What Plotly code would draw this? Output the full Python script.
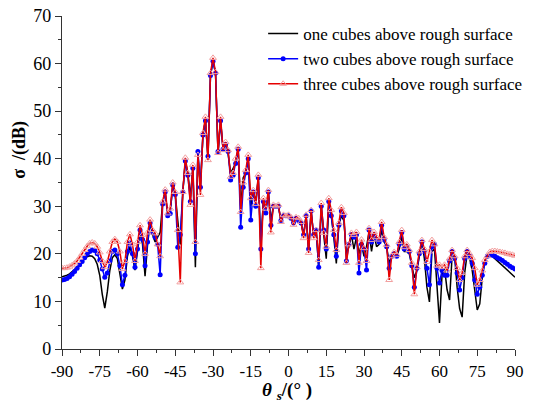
import plotly.graph_objects as go

theta = list(range(-90, 91))

one_cube = [
    15.2, 15.3, 15.5, 15.8, 16.2, 16.7, 17.3, 17.9, 18.5, 19.0,
    19.4, 19.6, 19.5, 19.0, 17.8, 15.5, 11.5, 8.6, 12.0, 16.5,
    19.2, 19.8, 19.0, 16.0, 12.6, 14.5, 19.5, 21.5, 19.5, 16.6,
    20.5, 24.5, 22.0, 15.3, 22.0, 26.5, 24.0, 22.5, 23.5, 24.5,
    31.0, 33.0, 28.0, 29.0, 34.0, 32.5, 27.0, 22.0, 33.0, 39.5,
    37.0, 32.0, 38.0, 17.2, 41.0, 34.0, 45.0, 48.0, 40.0, 57.5,
    60.5, 58.0, 41.0, 48.0, 42.0, 43.0, 41.0, 37.0, 38.0, 39.0,
    42.0, 30.0, 36.0, 37.0, 40.0, 30.0, 33.0, 31.0, 36.0, 22.0,
    31.0, 29.0, 33.0, 27.0, 30.0, 30.0, 30.0, 27.0, 28.0, 28.0,
    28.0, 27.5, 26.5, 27.5, 27.0, 26.5, 24.0, 28.0, 20.5, 29.0,
    23.5, 25.0, 17.0, 30.0, 24.0, 19.0, 30.0, 28.0, 23.5, 18.0,
    26.0, 28.0, 27.0, 20.0, 21.5, 24.0, 21.0, 23.5, 20.0, 22.0,
    19.5, 21.5, 24.5, 20.5, 24.0, 21.5, 22.0, 25.0, 22.5, 21.5,
    18.0, 19.5, 19.5, 19.5, 21.0, 23.5, 20.5, 20.5, 20.0, 17.5,
    15.0, 16.5, 19.5, 22.5, 19.0, 13.0, 9.9, 20.5, 21.0, 12.0,
    5.5, 15.5, 17.0, 12.5, 10.3, 19.5, 19.5, 13.0, 8.5, 6.7,
    16.0, 20.0, 19.0, 16.5, 12.0, 8.2, 9.5, 15.0, 18.5, 19.5,
    19.8, 19.5, 19.0, 18.5, 18.0, 17.5, 17.0, 16.5, 16.0, 15.5,
    15.1,
]

two_cubes = [
    14.5, 14.6, 14.8, 15.2, 15.7, 16.3, 17.0, 17.7, 18.4, 19.2,
    19.9, 20.5, 20.8, 20.7, 20.0, 18.7, 16.8, 15.1, 16.0, 18.5,
    20.5, 20.8, 20.0, 17.5, 13.5, 15.5, 20.5, 22.3, 20.0, 17.2,
    21.0, 25.0, 23.0, 17.5, 22.5, 26.5, 24.5, 23.5, 22.0, 15.6,
    30.5, 33.0, 28.0, 28.5, 34.5, 32.5, 21.4, 24.0, 33.0, 39.5,
    36.5, 31.0, 38.0, 20.0, 41.5, 34.0, 45.0, 48.0, 40.5, 57.5,
    60.5, 58.0, 41.5, 48.0, 42.0, 43.0, 41.5, 35.5, 36.5, 39.0,
    42.0, 25.6, 34.0, 37.0, 40.0, 27.1, 33.0, 30.0, 36.0, 21.0,
    31.0, 28.6, 33.0, 26.0, 30.0, 30.0, 30.0, 27.0, 28.0, 28.0,
    28.0, 27.5, 26.5, 27.5, 27.0, 26.5, 24.0, 28.0, 21.0, 29.0,
    24.0, 25.0, 17.2, 30.0, 25.0, 21.0, 31.0, 28.0, 24.0, 19.5,
    26.0, 29.0, 28.0, 18.5, 22.0, 24.0, 23.5, 24.0, 16.0, 22.0,
    21.0, 16.6, 25.0, 22.5, 24.0, 23.0, 22.5, 26.0, 23.0, 21.5,
    17.0, 19.5, 20.0, 19.5, 22.0, 24.5, 21.0, 21.5, 20.5, 17.5,
    13.0, 17.0, 20.0, 22.5, 20.5, 17.0, 13.5, 21.5, 22.0, 17.0,
    13.9, 16.5, 15.5, 15.5, 18.5, 20.5, 19.0, 16.0, 12.4, 15.0,
    19.0, 20.5, 19.5, 18.0, 14.5, 11.5, 13.0, 15.5, 18.0, 19.5,
    19.8, 19.7, 19.5, 19.2, 18.9, 18.6, 18.2, 17.8, 17.4, 17.1,
    16.8,
]

three_cubes = [
    17.0, 17.0, 17.1, 17.3, 17.6, 18.0, 18.5, 19.2, 20.0, 20.8,
    21.6, 22.2, 22.4, 22.2, 21.5, 20.3, 18.5, 17.2, 18.3, 20.5,
    22.5, 23.1, 22.5, 20.5, 16.8, 18.5, 22.5, 24.1, 22.0, 18.5,
    22.5, 26.0, 24.0, 20.0, 24.5, 27.2, 25.0, 24.3, 22.0, 19.5,
    31.0, 33.5, 28.5, 29.5, 35.0, 33.0, 25.0, 14.0, 33.0, 40.2,
    37.0, 30.3, 38.7, 22.5, 40.8, 32.4, 45.4, 48.8, 39.7, 58.0,
    61.2, 58.2, 41.2, 48.8, 41.8, 43.5, 41.8, 36.2, 37.0, 40.0,
    42.5, 28.8, 35.0, 37.6, 40.8, 31.7, 33.4, 30.5, 36.6, 17.0,
    31.7, 29.5, 33.4, 24.5, 30.3, 30.0, 30.3, 26.7, 28.2, 28.0,
    28.2, 27.7, 26.1, 27.7, 27.5, 26.7, 23.3, 28.2, 20.2, 29.2,
    23.3, 25.0, 18.7, 30.7, 24.4, 21.5, 31.7, 29.2, 25.0, 20.8,
    26.5, 29.8, 28.6, 18.1, 22.0, 24.4, 24.0, 24.6, 18.1, 23.0,
    21.2, 18.5, 25.4, 22.9, 24.6, 23.5, 23.0, 26.7, 23.5, 21.9,
    14.5, 19.5, 20.4, 19.8, 22.5, 25.0, 21.4, 22.0, 20.8, 18.1,
    11.5, 17.2, 20.5, 22.9, 21.0, 18.3, 20.5, 22.9, 22.0, 17.5,
    17.7, 17.2, 17.7, 16.5, 19.0, 20.8, 19.5, 17.0, 14.5, 16.0,
    19.5, 20.8, 20.0, 19.1, 17.0, 13.5, 14.5, 16.5, 18.7, 19.5,
    20.4, 20.6, 20.6, 20.5, 20.4, 20.3, 20.2, 20.0, 19.9, 19.8,
    19.6,
]

names = ["one cubes above rough surface",
         "two cubes above rough surface",
         "three cubes above rough surface"]

x_ticks = list(range(-90, 91, 15))
y_ticks = list(range(0, 71, 10))

fig = go.Figure()
fig.add_trace(go.Scatter(
    x=theta, y=one_cube, name=names[0], mode="lines",
    line=dict(color="black", width=1.5)))
fig.add_trace(go.Scatter(
    x=theta, y=two_cubes, name=names[1], mode="lines+markers",
    line=dict(color="#0000ff", width=1.5),
    marker=dict(symbol="circle", size=5, color="#0000ff")))
fig.add_trace(go.Scatter(
    x=theta, y=three_cubes, name=names[2], mode="lines+markers",
    line=dict(color="#e60000", width=1.5),
    marker=dict(symbol="triangle-up-open", size=6, color="#f2a0a0",
                line=dict(width=1))))

font_family = "Liberation Serif"

fig.update_layout(
    width=533, height=407,
    margin=dict(l=62, r=18, t=16, b=58, autoexpand=False),
    paper_bgcolor="white", plot_bgcolor="white",
    font=dict(family=font_family, size=17, color="black"),
    showlegend=True,
    legend=dict(x=0.444, y=1.0, xanchor="left", yanchor="top",
                bgcolor="rgba(0,0,0,0)", font=dict(family=font_family, size=17),
                itemwidth=30, tracegroupgap=0),
    xaxis=dict(
        range=[-90, 90], tickvals=x_ticks, ticktext=[str(v) for v in x_ticks],
        showgrid=False, zeroline=False, showline=True, linecolor="#333",
        linewidth=1.2, ticks="outside", ticklen=6, tickcolor="#333",
        automargin=False,
        minor=dict(dtick=7.5, tick0=-90, ticks="outside", ticklen=3,
                   tickcolor="#333", showgrid=False),
        tickfont=dict(family=font_family, size=17),
    ),
    yaxis=dict(
        range=[0, 70], tickvals=y_ticks, ticktext=[str(v) for v in y_ticks],
        showgrid=False, zeroline=False, showline=True, linecolor="#333",
        linewidth=1.2, ticks="outside", ticklen=6, tickcolor="#333",
        automargin=False,
        minor=dict(dtick=5, tick0=0, ticks="outside", ticklen=3,
                   tickcolor="#333", showgrid=False),
        tickfont=dict(family=font_family, size=18),
    ),
    annotations=[
        dict(text="<b>σ  /(dB)</b>", textangle=-90, showarrow=False,
             xref="paper", yref="paper", x=-0.0927, y=0.598,
             xanchor="center", yanchor="middle",
             font=dict(family=font_family, size=18)),
        dict(text="<b><i>θ</i> <sub><i>s</i></sub>/(° )</b>", showarrow=False,
             xref="paper", yref="paper", x=0.497, y=-0.125,
             xanchor="center", yanchor="middle",
             font=dict(family=font_family, size=19)),
    ],
)

fig.write_html("out.html")
